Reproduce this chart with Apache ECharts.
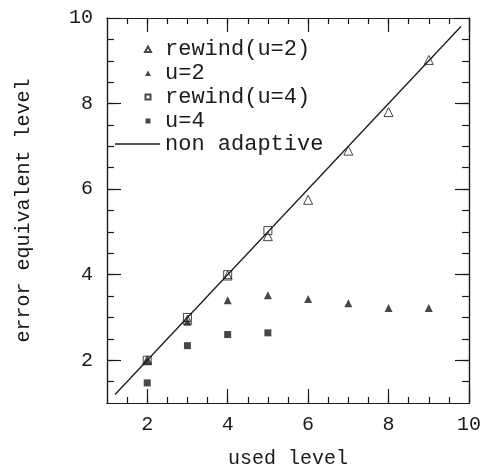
<!DOCTYPE html>
<html>
<head>
<meta charset="utf-8">
<script src="https://cdn.jsdelivr.net/npm/echarts@6/dist/echarts.min.js"></script>
<style>
  html, body { margin: 0; padding: 0; background: #fff; }
  #chart { width: 484px; height: 474px; }
</style>
</head>
<body>
<div id="chart"></div>
<script>
// used level on x
const levels = [2, 3, 4, 5, 6, 7, 8, 9]
const rewindU2 = [2.0, 2.95, 3.98, 4.9, 5.75, 6.9, 7.8, 9.02]
const u2 = [2.0, 2.9, 3.4, 3.52, 3.43, 3.33, 3.22, 3.22]
const levelsU4 = [2, 3, 4, 5]
const rewindU4 = [2.0, 3.0, 4.0, 5.03]
const u4 = [1.47, 2.34, 2.6, 2.64]
// non adaptive reference line
const lineX = [1.2, 9.8]
const lineY = [1.2, 9.8]

const majorTicks = [2, 4, 6, 8, 10]
const minorTicks = [1.5, 2, 2.5, 3, 3.5, 4, 4.5, 5, 5.5, 6, 6.5, 7, 7.5, 8, 8.5, 9, 9.5]

const FONT = 'Liberation Mono'
const INK = '#1a1a1a'

// small legend marks, padded to the 24x6 legend box so they don't stretch
const TRI_ICON = 'path://M0,0 M9,6 L12,0.5 L15,6 Z M24,6'
const SQ_ICON = 'path://M0,0 M9.5,0.5 L14.5,0.5 L14.5,5.5 L9.5,5.5 Z M24,6'

const chart = echarts.init(document.getElementById('chart'))

function pairs(xs, ys) {
  return xs.map((x, i) => [x, ys[i]])
}

function axis(pos, ticks, len, extra) {
  return Object.assign({
    type: 'value',
    position: pos,
    min: 1,
    max: 10,
    axisLine: { show: true, onZero: false, lineStyle: { color: INK, width: 1.2 } },
    axisTick: { show: true, inside: true, length: len, customValues: ticks, lineStyle: { color: INK, width: 1.2 } },
    axisLabel: { show: false },
    splitLine: { show: false }
  }, extra || {})
}

const openStyle = { color: 'rgba(255,255,255,0)', borderColor: INK, borderWidth: 1 }
const fillStyle = { color: INK }
const legendText = { fontFamily: FONT, fontSize: 22, color: INK }

const option = {
  backgroundColor: '#fff',
  animation: false,
  grid: { left: 107, right: 15, top: 18, bottom: 65 },
  xAxis: [
    axis('bottom', majorTicks, 14, {
      name: 'used level', nameLocation: 'middle', nameGap: 46,
      nameTextStyle: { fontFamily: FONT, fontSize: 20, color: INK },
      axisLabel: { show: true, customValues: majorTicks, fontFamily: FONT, fontSize: 20, color: INK, margin: 12 }
    }),
    axis('bottom', minorTicks, 6),
    axis('top', majorTicks, 14),
    axis('top', minorTicks, 6)
  ],
  yAxis: [
    axis('left', majorTicks, 14, {
      name: 'error equivalent level', nameLocation: 'middle', nameGap: 73,
      nameTextStyle: { fontFamily: FONT, fontSize: 20, color: INK },
      axisLabel: { show: true, customValues: majorTicks, fontFamily: FONT, fontSize: 20, color: INK, margin: 14 }
    }),
    axis('left', minorTicks, 7),
    axis('right', majorTicks, 14),
    axis('right', minorTicks, 7)
  ],
  legend: [
    {
      orient: 'vertical',
      left: 135, top: 38, padding: 0,
      itemWidth: 24, itemHeight: 6, itemGap: 2, itemTextGap: 8,
      textStyle: legendText,
      data: [
        { name: 'rewind(u=2)', icon: TRI_ICON },
        { name: 'u=2', icon: TRI_ICON },
        { name: 'rewind(u=4)', icon: SQ_ICON },
        { name: 'u=4', icon: SQ_ICON }
      ]
    },
    {
      orient: 'vertical',
      left: 115, top: 133, padding: 0,
      itemWidth: 45, itemHeight: 1.3, itemTextGap: 8,
      textStyle: legendText,
      data: [{ name: 'non adaptive', icon: 'rect' }]
    }
  ],
  series: [
    {
      name: 'non adaptive',
      type: 'line',
      data: pairs(lineX, lineY),
      symbol: 'none',
      lineStyle: { color: INK, width: 1.3 },
      itemStyle: { color: INK },
      z: 1
    },
    {
      name: 'rewind(u=2)',
      type: 'scatter',
      data: pairs(levels, rewindU2),
      symbol: 'triangle',
      symbolSize: 9,
      itemStyle: openStyle,
      z: 3
    },
    {
      name: 'u=2',
      type: 'scatter',
      data: pairs(levels, u2),
      symbol: 'triangle',
      symbolSize: 8,
      itemStyle: fillStyle,
      z: 2
    },
    {
      name: 'rewind(u=4)',
      type: 'scatter',
      data: pairs(levelsU4, rewindU4),
      symbol: 'rect',
      symbolSize: 8,
      itemStyle: openStyle,
      z: 3
    },
    {
      name: 'u=4',
      type: 'scatter',
      data: pairs(levelsU4, u4),
      symbol: 'rect',
      symbolSize: 7,
      itemStyle: fillStyle,
      z: 2
    }
  ]
}

chart.setOption(option)
</script>
</body>
</html>
